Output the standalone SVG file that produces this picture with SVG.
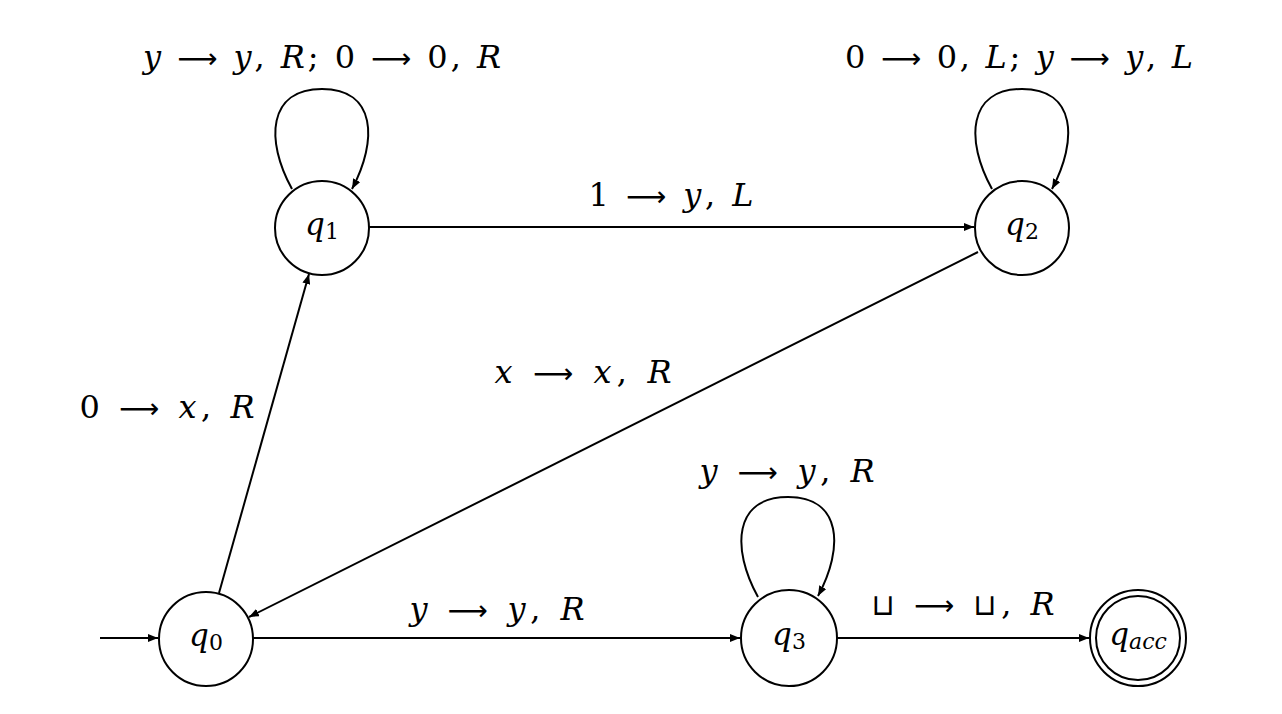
<svg xmlns="http://www.w3.org/2000/svg" width="1282" height="714" viewBox="0 0 1282 714">
<style>
.st{fill:#fff;stroke:#000;stroke-width:2}
.e{fill:none;stroke:#000;stroke-width:2}
.lb{font-family:"DejaVu Serif","Liberation Serif",serif;font-size:32px;fill:#000}
.nl{font-family:"DejaVu Serif","Liberation Serif",serif;font-size:31px;fill:#000;font-style:italic}
.i{font-style:italic}
.ar{font-family:"DejaVu Sans",sans-serif;font-size:28px}
.sub{font-size:22px;font-style:normal}
.cup{font-family:"DejaVu Sans",sans-serif;font-size:30px}
</style>
<defs>
<marker id="ah" viewBox="0 0 10 8" refX="10" refY="4" markerWidth="10" markerHeight="8" markerUnits="userSpaceOnUse" orient="auto">
<path d="M0,0 L10,4 L0,8 Z" fill="#000"/>
</marker>
</defs>
<rect width="1282" height="714" fill="#fff"/>
<g id="edges">
<path class="e" d="M100,638 L158,638" marker-end="url(#ah)"/>
<path class="e" d="M219,593 L309,274" marker-end="url(#ah)"/>
<path class="e" d="M369,227 L974,227" marker-end="url(#ah)"/>
<path class="e" d="M978,252 L249,617" marker-end="url(#ah)"/>
<path class="e" d="M253,638 L740,638" marker-end="url(#ah)"/>
<path class="e" d="M837,638 L1089,638" marker-end="url(#ah)"/>
<path class="e" d="M292,189 C265,140 268,89 322,89 C376,89 378,140 352,189" marker-end="url(#ah)"/>
<path class="e" d="M992,189 C965,140 968,89 1022,89 C1076,89 1078,140 1052,189" marker-end="url(#ah)"/>
<path class="e" d="M758,597 C731,548 734,497 788,497 C842,497 844,548 818,596" marker-end="url(#ah)"/>
</g>
<g id="edge-labels">
<text class="lb" x="322" y="68" text-anchor="middle" textLength="358" lengthAdjust="spacing"><tspan class="i">y</tspan> <tspan class="ar">⟶</tspan> <tspan class="i">y</tspan>, <tspan class="i">R</tspan>; 0 <tspan class="ar">⟶</tspan> 0, <tspan class="i">R</tspan></text>
<text class="lb" x="1019" y="68" text-anchor="middle" textLength="348" lengthAdjust="spacing">0 <tspan class="ar">⟶</tspan> 0, <tspan class="i">L</tspan>; <tspan class="i">y</tspan> <tspan class="ar">⟶</tspan> <tspan class="i">y</tspan>, <tspan class="i">L</tspan></text>
<text class="lb" x="671" y="206" text-anchor="middle" textLength="165" lengthAdjust="spacing">1 <tspan class="ar">⟶</tspan> <tspan class="i">y</tspan>, <tspan class="i">L</tspan></text>
<text class="lb" x="583" y="383" text-anchor="middle" textLength="177" lengthAdjust="spacing"><tspan class="i">x</tspan> <tspan class="ar">⟶</tspan> <tspan class="i">x</tspan>, <tspan class="i">R</tspan></text>
<text class="lb" x="167" y="418" text-anchor="middle" textLength="175" lengthAdjust="spacing">0 <tspan class="ar">⟶</tspan> <tspan class="i">x</tspan>, <tspan class="i">R</tspan></text>
<text class="lb" x="497" y="620" text-anchor="middle" textLength="175" lengthAdjust="spacing"><tspan class="i">y</tspan> <tspan class="ar">⟶</tspan> <tspan class="i">y</tspan>, <tspan class="i">R</tspan></text>
<text class="lb" x="787" y="482" text-anchor="middle" textLength="175" lengthAdjust="spacing"><tspan class="i">y</tspan> <tspan class="ar">⟶</tspan> <tspan class="i">y</tspan>, <tspan class="i">R</tspan></text>
<text class="lb" x="963" y="615" text-anchor="middle" textLength="183" lengthAdjust="spacing"><tspan class="cup">⊔</tspan> <tspan class="ar">⟶</tspan> <tspan class="cup">⊔</tspan>, <tspan class="i">R</tspan></text>
</g>
<g id="q0">
<circle class="st" cx="206" cy="639" r="47"/>
<text class="nl" x="206" y="646" text-anchor="middle">q<tspan class="sub" dy="4">0</tspan></text>
</g>
<g id="q1">
<circle class="st" cx="322" cy="228" r="47"/>
<text class="nl" x="322" y="235" text-anchor="middle">q<tspan class="sub" dy="4">1</tspan></text>
</g>
<g id="q2">
<circle class="st" cx="1022" cy="228" r="47"/>
<text class="nl" x="1022" y="235" text-anchor="middle">q<tspan class="sub" dy="4">2</tspan></text>
</g>
<g id="q3">
<circle class="st" cx="789" cy="638" r="48"/>
<text class="nl" x="789" y="645" text-anchor="middle">q<tspan class="sub" dy="4">3</tspan></text>
</g>
<g id="qacc">
<circle class="st" cx="1138" cy="638" r="48"/>
<circle class="st" cx="1138" cy="638" r="42"/>
<text class="nl" x="1138" y="645" text-anchor="middle">q<tspan class="sub" dy="4" style="font-style:italic">acc</tspan></text>
</g>
</svg>
